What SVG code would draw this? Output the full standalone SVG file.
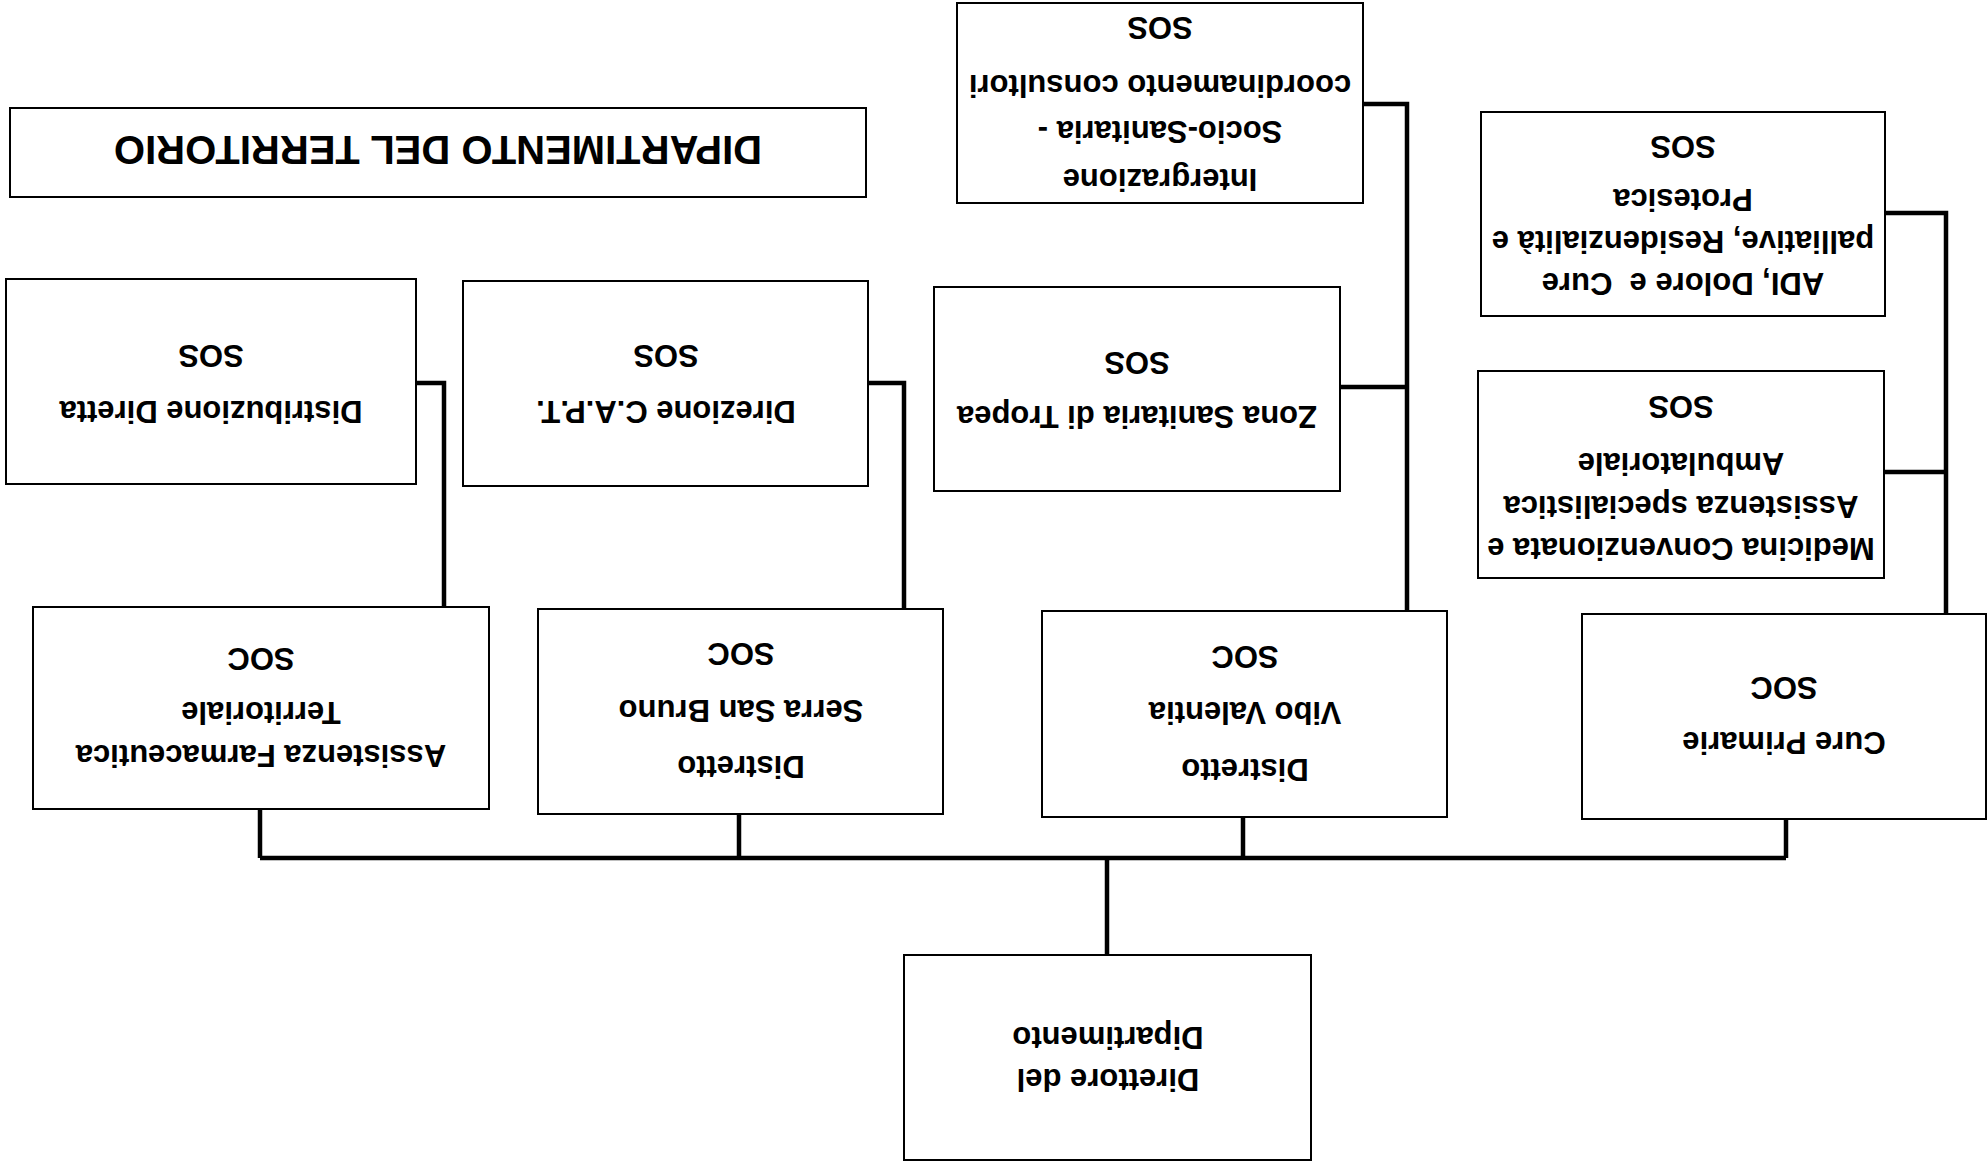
<svg xmlns="http://www.w3.org/2000/svg" width="1988" height="1167" viewBox="0 0 1988 1167">
<style>
.box{fill:#fff;stroke:#000;stroke-width:2}
.t{font-family:"Liberation Sans",Arial,sans-serif;font-weight:bold;font-size:31px;fill:#000;text-anchor:middle}
.title{font-size:40px}
.c{fill:none;stroke:#000;stroke-width:4.5;stroke-linejoin:miter}
</style>
<rect width="1988" height="1167" fill="#fff"/>
<g transform="rotate(180 994 583.5)">
<g id="connectors">
<path class="c" d="M202,309 H1728"/>
<path class="c" d="M881,212 V309"/>
<path class="c" d="M1728,309 V358"/>
<path class="c" d="M1249,309 V353"/>
<path class="c" d="M745,309 V350"/>
<path class="c" d="M202,309 V348"/>
<path class="c" d="M1544,560 V784 H1572"/>
<path class="c" d="M1084,558 V784 H1120"/>
<path class="c" d="M581,556 V1063 H625 M581,780 H648"/>
<path class="c" d="M42,553 V954 H103 M42,695 H104"/>
</g>
<g id="title">
<rect class="box" x="1122" y="970" width="856" height="89"/>
<text class="t title" x="1550" y="1031">DIPARTIMENTO DEL TERRITORIO</text>
</g>
<g id="direttore">
<rect class="box" x="677" y="7" width="407" height="205"/>
<text class="t" x="880" y="98">Direttore del</text>
<text class="t" x="880" y="140">Dipartimento</text>
</g>
<g id="assistenza-farmaceutica">
<rect class="box" x="1499" y="358" width="456" height="202"/>
<text class="t" x="1727" y="422">Assistenza Farmaceutica</text>
<text class="t" x="1727" y="465">Territoriale</text>
<text class="t" x="1727" y="519">SOC</text>
</g>
<g id="distretto-serra">
<rect class="box" x="1045" y="353" width="405" height="205"/>
<text class="t" x="1247" y="411">Distretto</text>
<text class="t" x="1247" y="467">Serra San Bruno</text>
<text class="t" x="1247" y="524">SOC</text>
</g>
<g id="distretto-vibo">
<rect class="box" x="541" y="350" width="405" height="206"/>
<text class="t" x="743" y="408">Distretto</text>
<text class="t" x="743" y="465">Vibo Valentia</text>
<text class="t" x="743" y="521">SOC</text>
</g>
<g id="cure-primarie">
<rect class="box" x="2" y="348" width="404" height="205"/>
<text class="t" x="204" y="435">Cure Primarie</text>
<text class="t" x="204" y="490">SOC</text>
</g>
<g id="distribuzione-diretta">
<rect class="box" x="1572" y="683" width="410" height="205"/>
<text class="t" x="1777" y="766">Distribuzione Diretta</text>
<text class="t" x="1777" y="822">SOS</text>
</g>
<g id="direzione-capt">
<rect class="box" x="1120" y="681" width="405" height="205"/>
<text class="t" x="1322" y="766">Direzione C.A.P.T.</text>
<text class="t" x="1322" y="822">SOS</text>
</g>
<g id="zona-tropea">
<rect class="box" x="648" y="676" width="406" height="204"/>
<text class="t" x="851" y="761">Zona Sanitaria di Tropea</text>
<text class="t" x="851" y="815">SOS</text>
</g>
<g id="integrazione">
<rect class="box" x="625" y="964" width="406" height="200"/>
<text class="t" x="828" y="998">Intergrazione</text>
<text class="t" x="828" y="1046">Socio-Sanitaria -</text>
<text class="t" x="828" y="1092">coordinamento consultori</text>
<text class="t" x="828" y="1150">SOS</text>
</g>
<g id="adi">
<rect class="box" x="103" y="851" width="404" height="204"/>
<text class="t" x="305" y="894" xml:space="preserve">ADI, Dolore e  Cure</text>
<text class="t" x="305" y="936">palliative, Residenzialità e</text>
<text class="t" x="305" y="978">Protesica</text>
<text class="t" x="305" y="1031">SOS</text>
</g>
<g id="medicina">
<rect class="box" x="104" y="589" width="406" height="207"/>
<text class="t" x="307" y="629">Medicina Convenzionata e</text>
<text class="t" x="307" y="671">Assistenza specialistica</text>
<text class="t" x="307" y="714">Ambulatoriale</text>
<text class="t" x="307" y="771">SOS</text>
</g>
</g>
</svg>
